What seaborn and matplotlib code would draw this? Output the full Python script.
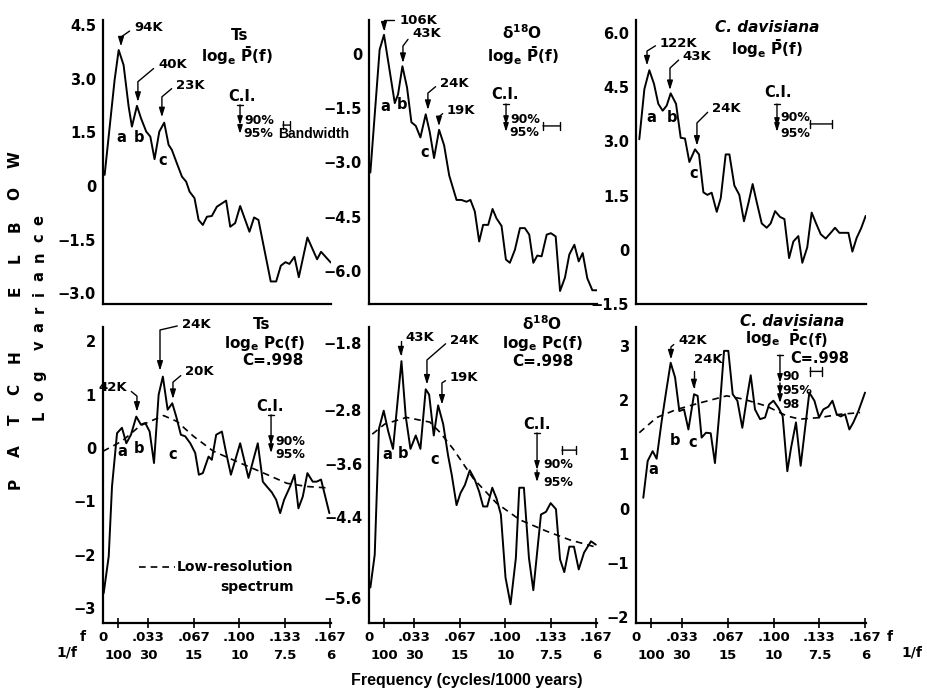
import matplotlib
matplotlib.use("Agg")
import matplotlib.pyplot as plt
import seaborn as sns
import pandas as pd
from matplotlib import font_manager as fm

# ---------------- data ----------------
# Top row: high-resolution log spectra  loge P(f)
ts_f = [0.0012, 0.0085, 0.0115, 0.0151, 0.0188, 0.0212, 0.0249, 0.0278, 0.0317, 0.0347,
        0.0378, 0.0413, 0.0449, 0.0481, 0.0505, 0.0542, 0.0579, 0.0610, 0.0635, 0.0671,
        0.0701, 0.0732, 0.0762, 0.0798, 0.0835, 0.0903, 0.0933, 0.0969, 0.1006, 0.1074,
        0.1108, 0.1140, 0.1230, 0.1270, 0.1304, 0.1338, 0.1367, 0.1404, 0.1436, 0.1499,
        0.1570, 0.1599, 0.1670]
ts_logp = [0.31, 2.96, 3.80, 3.38, 2.22, 1.66, 2.24, 1.90, 1.52, 1.38,
           0.75, 1.52, 1.77, 1.15, 1.01, 0.63, 0.26, 0.12, -0.16, -0.34,
           -0.95, -1.09, -0.86, -0.84, -0.58, -0.41, -1.14, -1.04, -0.56, -1.28,
           -0.88, -0.95, -2.67, -2.67, -2.23, -2.13, -2.18, -1.98, -2.55, -1.44,
           -2.05, -1.84, -2.14]

d18o_f = [0.0010, 0.0078, 0.0110, 0.0189, 0.0213, 0.0245, 0.0279, 0.0311, 0.0343, 0.0377,
          0.0416, 0.0446, 0.0477, 0.0514, 0.0551, 0.0588, 0.0642, 0.0678, 0.0715, 0.0744,
          0.0776, 0.0808, 0.0837, 0.0874, 0.0906, 0.0935, 0.0972, 0.1004, 0.1033, 0.1070,
          0.1107, 0.1143, 0.1175, 0.1205, 0.1234, 0.1266, 0.1303, 0.1334, 0.1369, 0.1401,
          0.1437, 0.1469, 0.1506, 0.1538, 0.1567, 0.1601, 0.1638, 0.1670]
d18o_logp = [-3.28, 0.12, 0.53, -1.36, -1.12, -0.34, -0.93, -1.89, -1.99, -2.31,
             -1.67, -2.17, -2.88, -2.10, -2.53, -3.36, -4.04, -4.04, -4.09, -4.04,
             -4.36, -5.19, -4.73, -4.73, -4.29, -4.55, -4.76, -5.69, -5.78, -5.42,
             -4.82, -4.82, -5.00, -5.78, -5.58, -5.60, -5.00, -4.96, -5.05, -6.56,
             -6.19, -5.55, -5.28, -5.74, -5.51, -6.21, -6.54, -6.54]

cdav_f = [0.0024, 0.0061, 0.0097, 0.0131, 0.0162, 0.0194, 0.0223, 0.0252, 0.0291, 0.0325,
          0.0356, 0.0388, 0.0429, 0.0458, 0.0490, 0.0519, 0.0550, 0.0587, 0.0616, 0.0652,
          0.0679, 0.0715, 0.0751, 0.0785, 0.0817, 0.0848, 0.0877, 0.0914, 0.0950, 0.0979,
          0.1011, 0.1047, 0.1079, 0.1113, 0.1144, 0.1180, 0.1209, 0.1245, 0.1277, 0.1309,
          0.1343, 0.1379, 0.1411, 0.1447, 0.1478, 0.1544, 0.1573, 0.1604, 0.1636, 0.1670]
cdav_logp = [3.06, 4.45, 4.97, 4.59, 4.04, 3.85, 3.99, 4.33, 4.04, 3.10,
             3.08, 2.43, 2.78, 2.64, 1.59, 1.52, 1.58, 1.05, 1.43, 2.64,
             2.64, 1.78, 1.52, 0.79, 1.29, 1.82, 1.33, 0.73, 0.61, 0.73,
             1.07, 0.91, 0.85, -0.23, 0.23, 0.38, -0.36, 0.07, 1.03, 0.73,
             0.43, 0.31, 0.45, 0.61, 0.47, 0.47, -0.05, 0.33, 0.59, 0.94]

# Bottom row: coherent log spectra  loge Pc(f), C=.998
tsc_f = [0.0005, 0.0042, 0.0066, 0.0103, 0.0139, 0.0171, 0.0205, 0.0244, 0.0278, 0.0310,
         0.0342, 0.0374, 0.0408, 0.0439, 0.0474, 0.0508, 0.0537, 0.0571, 0.0603, 0.0640,
         0.0676, 0.0703, 0.0732, 0.0774, 0.0798, 0.0830, 0.0872, 0.0903, 0.0938, 0.1006,
         0.1067, 0.1135, 0.1172, 0.1201, 0.1238, 0.1270, 0.1299, 0.1328, 0.1372, 0.1404,
         0.1433, 0.1465, 0.1499, 0.1538, 0.1567, 0.1599, 0.1660]
tsc_logp = [-2.72, -2.03, -0.72, 0.28, 0.38, 0.09, 0.25, 0.59, 0.44, 0.47,
            0.31, -0.28, 1.00, 1.34, 0.72, 0.84, 0.59, 0.25, 0.22, 0.09,
            -0.09, -0.50, -0.47, -0.16, -0.22, 0.25, 0.31, -0.09, -0.50, 0.09,
            -0.56, 0.09, -0.63, -0.72, -0.83, -0.97, -1.22, -0.97, -0.72, -0.50,
            -1.13, -0.91, -0.47, -0.63, -0.63, -0.59, -1.22]
tsc_low_f = [0.0000, 0.0139, 0.0273, 0.0444, 0.0542, 0.0664, 0.0810, 0.1006, 0.1152, 0.1348, 0.1494, 0.1660]
tsc_low_p = [-0.06, 0.13, 0.42, 0.61, 0.50, 0.22, -0.06, -0.28, -0.44, -0.66, -0.72, -0.75]

d18oc_f = [0.0010, 0.0042, 0.0073, 0.0108, 0.0140, 0.0176, 0.0238, 0.0269, 0.0304, 0.0343,
           0.0377, 0.0416, 0.0441, 0.0475, 0.0507, 0.0544, 0.0580, 0.0607, 0.0642, 0.0671,
           0.0703, 0.0739, 0.0776, 0.0808, 0.0837, 0.0867, 0.0904, 0.0935, 0.0967, 0.1001,
           0.1038, 0.1077, 0.1102, 0.1136, 0.1173, 0.1205, 0.1261, 0.1298, 0.1332, 0.1371,
           0.1401, 0.1432, 0.1469, 0.1503, 0.1538, 0.1577, 0.1628, 0.1663]
d18oc_logp = [-5.45, -4.96, -3.08, -2.81, -3.11, -3.38, -2.07, -2.89, -3.38, -3.18,
              -3.38, -2.49, -2.57, -3.18, -2.73, -3.01, -3.48, -3.77, -4.22, -4.04,
              -3.92, -3.70, -3.84, -4.02, -4.24, -4.24, -3.96, -4.12, -4.36, -5.30,
              -5.70, -5.01, -3.96, -3.96, -5.01, -5.49, -4.36, -4.32, -4.19, -4.28,
              -5.03, -5.22, -4.84, -4.84, -5.18, -4.93, -4.76, -4.81]
d18oc_low_f = [0.0024, 0.0115, 0.0274, 0.0446, 0.0519, 0.0617, 0.0764, 0.0935, 0.1107, 0.1303, 0.1474, 0.1670]
d18oc_low_p = [-3.16, -3.01, -2.91, -2.98, -3.13, -3.38, -3.82, -4.19, -4.44, -4.61, -4.74, -4.85]

cdavc_f = [0.0053, 0.0085, 0.0121, 0.0150, 0.0187, 0.0218, 0.0252, 0.0284, 0.0315, 0.0349,
           0.0381, 0.0422, 0.0448, 0.0477, 0.0509, 0.0543, 0.0574, 0.0606, 0.0640, 0.0671,
           0.0703, 0.0737, 0.0773, 0.0805, 0.0834, 0.0865, 0.0902, 0.0938, 0.0967, 0.0999,
           0.1035, 0.1066, 0.1100, 0.1127, 0.1163, 0.1197, 0.1229, 0.1260, 0.1297, 0.1331,
           0.1362, 0.1398, 0.1428, 0.1459, 0.1488, 0.1520, 0.1551, 0.1580, 0.1617, 0.1665]
cdavc_logp = [0.20, 0.88, 1.06, 0.92, 1.62, 2.14, 2.69, 2.42, 1.80, 1.83,
              1.46, 2.11, 2.08, 1.31, 1.40, 1.39, 0.84, 1.77, 2.91, 2.91,
              2.11, 1.99, 1.49, 2.02, 2.46, 1.83, 1.65, 1.68, 1.92, 1.99,
              1.86, 1.71, 0.69, 1.12, 1.59, 0.79, 1.48, 2.14, 1.99, 1.68,
              1.83, 1.88, 1.99, 1.74, 1.70, 1.74, 1.46, 1.59, 1.80, 2.14]
cdavc_low_f = [0.0024, 0.0150, 0.0296, 0.0465, 0.0659, 0.0780, 0.0950, 0.1095, 0.1192, 0.1338, 0.1483, 0.1629]
cdavc_low_p = [1.40, 1.68, 1.83, 1.95, 2.08, 2.02, 1.89, 1.71, 1.65, 1.68, 1.74, 1.77]

# axis ticks
f_ticks = [0.0, 0.0333, 0.0667, 0.1000, 0.1333, 0.1667]
f_labels = ["0", ".033", ".067", ".100", ".133", ".167"]
period_ticks = [0.011, 0.0333, 0.0667, 0.1000, 0.1333, 0.1667]
period_labels = ["100", "30", "15", "10", "7.5", "6"]

# ---------------- style ----------------
sns.set_theme(style="white")
names = {f.name for f in fm.fontManager.ttflist}
NARROW = "Liberation Sans" if "Liberation Sans" in names else "DejaVu Sans"
plt.rcParams["font.family"] = ["DejaVu Sans"]
plt.rcParams.update({
    "font.weight": "bold",
    "mathtext.fontset": "custom",
    "mathtext.rm": "DejaVu Sans:bold",
    "mathtext.bf": "DejaVu Sans:bold",
    "mathtext.it": "DejaVu Sans:italic:bold",
    "axes.edgecolor": "black",
    "axes.linewidth": 1.6,
    "text.color": "black",
    "xtick.color": "black",
    "ytick.color": "black",
})

W, H = 928, 690
fig = plt.figure(figsize=(W / 100, H / 100), dpi=100)


def rect(x0, x1, ytop, ybot):
    return [x0 / W, 1 - ybot / H, (x1 - x0) / W, (ybot - ytop) / H]


ARROW = "-|>,head_length=0.55,head_width=0.17"


def peak_label(ax, text, tip, txy, angle, ha="left"):
    ax.annotate(text, xy=tip, xycoords="data", xytext=txy, textcoords="axes fraction",
                ha=ha, va="center", fontsize=9.5, fontweight="bold",
                arrowprops=dict(arrowstyle=ARROW, color="black", lw=1.0, mutation_scale=10,
                                shrinkA=1, shrinkB=0, relpos=(0 if ha == "left" else 1, 0.5),
                                connectionstyle=f"angle,angleA={angle},angleB=90,rad=0"))


def ci_bar(ax, x, ytop, ys):
    prev = ytop
    for y in ys:
        ax.annotate("", xy=(x, y), xytext=(x, prev), xycoords="axes fraction",
                    arrowprops=dict(arrowstyle=ARROW, color="black", lw=1.0, mutation_scale=9,
                                    shrinkA=0, shrinkB=0))
        prev = y
    ax.plot([x - 0.012, x + 0.012], [ytop, ytop], transform=ax.transAxes,
            color="black", lw=1.0, clip_on=False)


def bandwidth(ax, x0, x1, y):
    ax.annotate("", xy=(x1, y), xytext=(x0, y), xycoords="axes fraction",
                arrowprops=dict(arrowstyle="|-|,widthA=0.25,widthB=0.25", color="black",
                                lw=1.0, shrinkA=0, shrinkB=0))


def txt(ax, x, y, s, size=10, ha="center", style="normal", family=None):
    kw = {}
    if family:
        kw["family"] = family
    ax.text(x, y, s, transform=ax.transAxes, ha=ha, va="center", fontsize=size,
            fontweight="bold", fontstyle=style, clip_on=False, **kw)


LOGP = r"log$_{\mathrm{e}}$ $\bar{\mathrm{P}}$(f)"
LOGPC = r"log$_{\mathrm{e}}$ Pc(f)"
D18O = r"δ$^{\mathrm{18}}$O"
N = [NARROW, "DejaVu Sans"]

panels = [
    dict(rect=rect(103, 331, 20, 304), f=ts_f, p=ts_logp, low=None,
         ylim=(-3.3, 4.64), yt=[4.5, 3.0, 1.5, 0, -1.5, -3.0],
         yl=["4.5", "3.0", "1.5", "0", "−1.5", "−3.0"], bottom=False,
         peaks=[("94K", (0.0132, 3.9), (0.136, 0.972), 35, "left"),
                ("40K", (0.0256, 2.35), (0.241, 0.842), 40, "left"),
                ("23K", (0.0432, 1.92), (0.320, 0.771), 40, "left")],
         texts=[("Ts", 0.601, 0.947, 11, "center", "normal", None), (LOGP, 0.588, 0.874, 11, "center", "normal", None),
                ("C.I.", 0.610, 0.729, 10.5, "center", "normal", None),
                ("90%", 0.618, 0.645, 9, "left", "normal", None), ("95%", 0.614, 0.602, 9, "left", "normal", None),
                ("Bandwidth", 0.768, 0.600, 10, "left", "normal", N),
                ("a", 0.079, 0.588, 10.5, "center", "normal", None), ("b", 0.158, 0.588, 10.5, "center", "normal", None),
                ("c", 0.263, 0.507, 10.5, "center", "normal", None)],
         ci=(0.601, 0.701, [0.630, 0.599]), bw=(0.789, 0.820, 0.630)),
    dict(rect=rect(369, 597, 20, 304), f=d18o_f, p=d18o_logp, low=None,
         ylim=(-6.92, 0.94), yt=[0, -1.5, -3.0, -4.5, -6.0],
         yl=["0", "−1.5", "−3.0", "−4.5", "−6.0"], bottom=False,
         peaks=[("106K", (0.011, 0.62), (0.132, 0.999), 0, "left"),
                ("43K", (0.0249, -0.25), (0.189, 0.951), 53, "left"),
                ("24K", (0.0432, -1.55), (0.311, 0.778), 40, "left"),
                ("19K", (0.0513, -2.0), (0.342, 0.683), 40, "left")],
         texts=[(D18O, 0.671, 0.954, 11, "center", "normal", None), (LOGP, 0.675, 0.876, 11, "center", "normal", None),
                ("C.I.", 0.596, 0.736, 10.5, "center", "normal", None),
                ("90%", 0.618, 0.650, 9, "left", "normal", None), ("95%", 0.614, 0.604, 9, "left", "normal", None),
                ("a", 0.070, 0.697, 10.5, "center", "normal", None), ("b", 0.145, 0.701, 10.5, "center", "normal", None),
                ("c", 0.246, 0.535, 10.5, "center", "normal", None)],
         ci=(0.601, 0.704, [0.630, 0.606]), bw=(0.763, 0.838, 0.627)),
    dict(rect=rect(636, 866, 20, 304), f=cdav_f, p=cdav_logp, low=None,
         ylim=(-1.5, 6.36), yt=[6.0, 4.5, 3.0, 1.5, 0, -1.5],
         yl=["6.0", "4.5", "3.0", "1.5", "0", "−1.5"], bottom=False,
         peaks=[("122K", (0.008, 5.1), (0.104, 0.919), 32, "left"),
                ("43K", (0.0247, 4.42), (0.204, 0.873), 43, "left"),
                ("24K", (0.0443, 2.88), (0.330, 0.690), 45, "left")],
         texts=[("C. davisiana", 0.570, 0.975, 11, "center", "italic", None), (LOGP, 0.570, 0.900, 11, "center", "normal", None),
                ("C.I.", 0.617, 0.743, 10.5, "center", "normal", None),
                ("90%", 0.626, 0.657, 9, "left", "normal", None), ("95%", 0.626, 0.600, 9, "left", "normal", None),
                ("a", 0.065, 0.655, 10.5, "center", "normal", None), ("b", 0.157, 0.658, 10.5, "center", "normal", None),
                ("c", 0.252, 0.461, 10.5, "center", "normal", None)],
         ci=(0.613, 0.704, [0.623, 0.606]), bw=(0.757, 0.852, 0.634)),
    dict(rect=rect(103, 331, 327, 623), f=tsc_f, p=tsc_logp, low=(tsc_low_f, tsc_low_p),
         ylim=(-3.28, 2.27), yt=[2, 1, 0, -1, -2, -3],
         yl=["2", "1", "0", "−1", "−2", "−3"], bottom=True,
         peaks=[("24K", (0.0418, 1.45), (0.346, 1.007), 13, "left"),
                ("20K", (0.0513, 0.92), (0.360, 0.848), 40, "left"),
                ("42K", (0.0249, 0.68), (0.105, 0.794), -39, "right")],
         texts=[("Ts", 0.697, 1.010, 11, "center", "normal", None), (LOGPC, 0.711, 0.943, 11, "center", "normal", None),
                ("C=.998", 0.746, 0.886, 11, "center", "normal", None),
                ("C.I.", 0.732, 0.730, 10.5, "center", "normal", None),
                ("90%", 0.754, 0.613, 9, "left", "normal", None), ("95%", 0.754, 0.568, 9, "left", "normal", None),
                ("a", 0.083, 0.578, 10.5, "center", "normal", None), ("b", 0.158, 0.588, 10.5, "center", "normal", None),
                ("c", 0.307, 0.568, 10.5, "center", "normal", None),
                ("Low-resolution", 0.322, 0.189, 10, "left", "normal", None),
                ("spectrum", 0.675, 0.122, 10, "center", "normal", None)],
         ci=(0.737, 0.703, [0.601, 0.574]), bw=None),
    dict(rect=rect(369, 597, 327, 623), f=d18oc_f, p=d18oc_logp, low=(d18oc_low_f, d18oc_low_p),
         ylim=(-5.98, -1.56), yt=[-1.8, -2.8, -3.6, -4.4, -5.6],
         yl=["−1.8", "−2.8", "−3.6", "−4.4", "−5.6"], bottom=True,
         peaks=[("43K", (0.0234, -2.0), (0.158, 0.966), 45, "left"),
                ("24K", (0.0425, -2.42), (0.355, 0.956), 41, "left"),
                ("19K", (0.0535, -2.72), (0.355, 0.828), 32, "left")],
         texts=[(D18O, 0.759, 1.010, 11, "center", "normal", None), (LOGPC, 0.763, 0.943, 11, "center", "normal", None),
                ("C=.998", 0.763, 0.884, 11, "center", "normal", None),
                ("C.I.", 0.737, 0.669, 10.5, "center", "normal", None),
                ("90%", 0.763, 0.534, 9, "left", "normal", None), ("95%", 0.763, 0.476, 9, "left", "normal", None),
                ("a", 0.079, 0.568, 10.5, "center", "normal", None), ("b", 0.149, 0.571, 10.5, "center", "normal", None),
                ("c", 0.289, 0.554, 10.5, "center", "normal", None)],
         ci=(0.737, 0.642, [0.517, 0.476]), bw=(0.846, 0.908, 0.584)),
    dict(rect=rect(636, 866, 327, 623), f=cdavc_f, p=cdavc_logp, low=(cdavc_low_f, cdavc_low_p),
         ylim=(-2.11, 3.35), yt=[3, 2, 1, 0, -1, -2],
         yl=["3", "2", "1", "0", "−1", "−2"], bottom=True,
         peaks=[("42K", (0.0254, 2.75), (0.183, 0.953), 40, "left"),
                ("24K", (0.0421, 2.2), (0.252, 0.889), 60, "left")],
         texts=[("C. davisiana", 0.678, 1.017, 11, "center", "italic", None),
                (r"log$_{\mathrm{e}}$", 0.552, 0.960, 11, "center", "normal", None),
                (r"$\bar{\mathrm{P}}$c(f)", 0.748, 0.960, 10.5, "center", "normal", None),
                ("C=.998", 0.800, 0.893, 10.5, "center", "normal", None),
                ("90", 0.635, 0.833, 9, "left", "normal", None), ("95%", 0.635, 0.787, 9, "left", "normal", None),
                ("98", 0.635, 0.738, 9, "left", "normal", None),
                ("a", 0.074, 0.520, 10.5, "center", "normal", None), ("b", 0.170, 0.618, 10.5, "center", "normal", None),
                ("c", 0.248, 0.611, 10.5, "center", "normal", None)],
         ci=(0.626, 0.905, [0.811, 0.770, 0.743]), bw=(0.757, 0.809, 0.850)),
]

for i, P in enumerate(panels):
    ax = fig.add_axes(P["rect"])
    df = pd.DataFrame({"f": P["f"], "logp": P["p"]})
    sns.lineplot(data=df, x="f", y="logp", ax=ax, color="black", lw=1.4,
                 estimator=None, sort=False)
    if P["low"] is not None:
        dl = pd.DataFrame({"f": P["low"][0], "logp": P["low"][1]})
        sns.lineplot(data=dl, x="f", y="logp", ax=ax, color="black", lw=1.2,
                     estimator=None, sort=False, linestyle=(0, (4, 3)))
    ax.set_xlim(0, 0.1672)
    ax.set_ylim(*P["ylim"])
    sns.despine(ax=ax)
    ax.set_xlabel("")
    ax.set_ylabel("")
    ax.set_yticks(P["yt"])
    ax.set_yticklabels(P["yl"])
    ax.tick_params(axis="y", direction="inout", length=8, width=1.3, pad=1,
                   labelsize=10.5)
    for lab in ax.get_yticklabels():
        lab.set_fontweight("bold")
    if P["bottom"]:
        ax.xaxis.remove_overlapping_locs = False
        ax.set_xticks(f_ticks)
        ax.set_xticklabels(f_labels)
        ax.set_xticks(period_ticks, minor=True)
        ax.set_xticklabels(period_labels, minor=True)
        ax.tick_params(axis="x", which="major", length=0, pad=6, labelsize=9.5)
        ax.tick_params(axis="x", which="minor", direction="inout", length=7, width=1.2,
                       pad=15, labelsize=9.5, bottom=True)
        for lab in ax.get_xticklabels(minor=False) + ax.get_xticklabels(minor=True):
            lab.set_fontweight("bold")
    else:
        ax.set_xticks(period_ticks)
        ax.set_xticklabels([])
        ax.tick_params(axis="x", direction="inout", length=7, width=1.2)
    for (s, tip, txy, ang, ha) in P["peaks"]:
        peak_label(ax, s, tip, txy, ang, ha)
    for (s, x, y, size, ha, style, fam) in P["texts"]:
        txt(ax, x, y, s, size, ha, style, fam)
    ci_bar(ax, *P["ci"][:2], P["ci"][2])
    if P["bw"] is not None:
        bandwidth(ax, *P["bw"])
    if i == 3:
        ax.plot([0.158, 0.316], [0.189, 0.189], transform=ax.transAxes, color="black",
                lw=1.2, linestyle=(0, (4, 3)))

# frequency row labels
for (x, y, s) in [(83, 637, "f"), (67, 653, "1/f"), (890, 637, "f"), (912, 653, "1/f")]:
    fig.text(x / W, 1 - y / H, s, ha="center", va="center", fontsize=10, fontweight="bold")
fig.text(467 / W, 1 - 680 / H, "Frequency (cycles/1000 years)", ha="center", va="center",
         fontsize=11.5, fontweight="bold", family=N)

# left labels, letter-spaced vertically
for ch, y in zip("PATCHELBOW", [483, 451, 420, 389, 357, 291, 258, 226, 193, 160]):
    fig.text(15 / W, 1 - y / H, ch, rotation=90, ha="center", va="center",
             fontsize=11, fontweight="bold")
for ch, y in zip("Logvariance", [415, 396, 376, 345, 327, 309, 293, 276, 257, 238, 220]):
    fig.text(39 / W, 1 - y / H, ch, rotation=90, ha="center", va="center",
             fontsize=10.5, fontweight="bold")

fig.savefig("out.png", dpi=100)
